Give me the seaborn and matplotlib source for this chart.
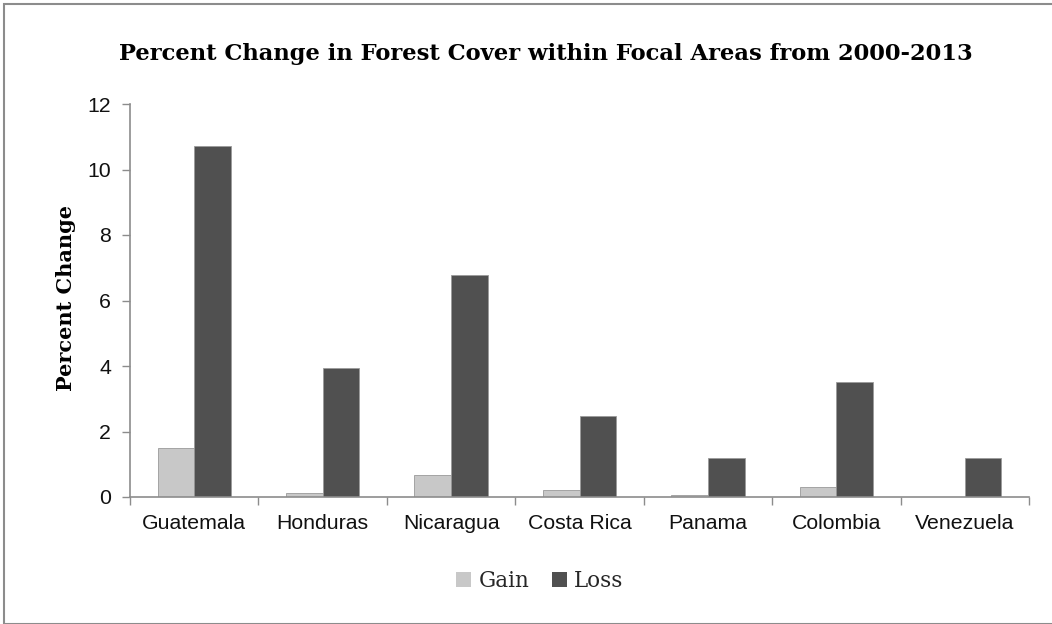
import matplotlib
matplotlib.use("Agg")
import matplotlib.pyplot as plt
import seaborn as sns
import pandas as pd
import numpy as np
from matplotlib.patches import Rectangle

countries = ["Guatemala", "Honduras", "Nicaragua", "Costa Rica", "Panama", "Colombia", "Venezuela"]
gain = [1.50, 0.11, 0.68, 0.20, 0.05, 0.31, 0.0]
loss = [10.72, 3.93, 6.79, 2.48, 1.18, 3.50, 1.20]
series = ["Gain", "Loss"]
colors = ["#c8c8c8", "#505050"]
yticks = [0, 2, 4, 6, 8, 10, 12]

df = pd.DataFrame({
    "Country": countries * 2,
    "Series": ["Gain"] * len(countries) + ["Loss"] * len(countries),
    "Value": gain + loss,
})

sns.set_style("white")
plt.rcParams["font.family"] = ["Liberation Sans", "DejaVu Sans"]
serif = ["DejaVu Serif"]

fig = plt.figure(figsize=(10.52, 6.24), dpi=100)
ax = fig.add_axes([130/1052, 1-497/624, (1029-130)/1052, (497-104)/624])

sns.barplot(data=df, x="Country", y="Value", hue="Series", order=countries,
            hue_order=series, palette=colors, width=0.57, gap=0, ax=ax,
            edgecolor="#9a9a9a", linewidth=0.6, legend=True, saturation=1)

ax.set_xlim(-0.5, len(countries) - 0.5)
ax.set_ylim(0, 12)
ax.set_yticks(yticks)
ax.set_yticklabels([str(t) for t in yticks], fontsize=15.3, color="#111111")
ax.tick_params(axis="y", length=6, color="#8c8c8c", width=1, direction="out", left=True, pad=7.5)
ax.set_xticks(range(len(countries)))
ax.set_xticklabels(countries, fontsize=15.3, color="#111111")
ax.tick_params(axis="x", which="major", length=0, pad=12)
ax.set_xticks(np.arange(-0.5, len(countries), 1.0), minor=True)
ax.tick_params(axis="x", which="minor", length=6, color="#8c8c8c", width=1, direction="out", bottom=True)

for s in ["top", "right"]:
    ax.spines[s].set_visible(False)
for s in ["left", "bottom"]:
    ax.spines[s].set_color("#8c8c8c")
    ax.spines[s].set_linewidth(1.2)

ax.set_xlabel("")
ax.set_ylabel("")
fig.text(66/1052, 1-298/624, "Percent Change", rotation=90, ha="center", va="center",
         fontsize=15, fontweight="bold", family=serif, color="black")

fig.text(546/1052, 1-60/624, "Percent Change in Forest Cover within Focal Areas from 2000-2013",
         ha="center", va="baseline", fontsize=16.3, fontweight="bold", family=serif, color="black")

leg = ax.legend(loc="center", bbox_to_anchor=(0.456, -0.2137), ncol=2, frameon=False,
                prop={"family": serif, "size": 15.5},
                handlelength=0.7, handleheight=0.7, handletextpad=0.33, columnspacing=1.05)
for h in leg.legend_handles:
    h.set_edgecolor("none")

fig.patches.append(Rectangle((4/1052, 0), 1.2, 1 - 4/624, transform=fig.transFigure,
                             fill=False, edgecolor="#8c8c8c", linewidth=1.5))

fig.savefig("out.png", dpi=100)
